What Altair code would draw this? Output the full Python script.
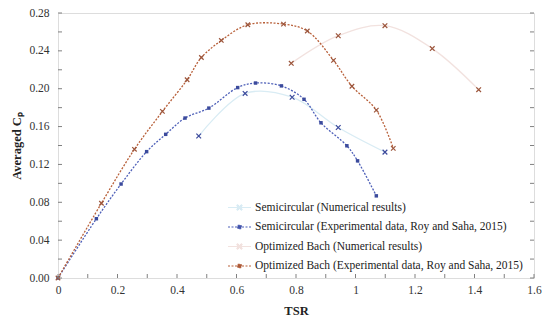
import altair as alt
import pandas as pd

# ---- data ----
semi_num_tsr = [0.473, 0.629, 0.787, 0.942, 1.099]
semi_num_cp = [0.150, 0.195, 0.191, 0.159, 0.133]

semi_exp_tsr = [0, 0.129, 0.212, 0.298, 0.362, 0.427, 0.507, 0.604, 0.664, 0.751, 0.827, 0.884, 0.971, 1.007, 1.070]
semi_exp_cp = [0, 0.0626, 0.0993, 0.1335, 0.1518, 0.169, 0.1795, 0.2012, 0.206, 0.203, 0.1888, 0.164, 0.1397, 0.1238, 0.0868]

bach_num_tsr = [0.784, 0.942, 1.099, 1.258, 1.414]
bach_num_cp = [0.2268, 0.256, 0.2666, 0.2424, 0.199]

bach_exp_tsr = [0, 0.146, 0.257, 0.351, 0.434, 0.482, 0.549, 0.638, 0.758, 0.838, 0.926, 0.988, 1.070, 1.127]
bach_exp_cp = [0, 0.079, 0.136, 0.176, 0.2095, 0.233, 0.251, 0.2676, 0.2683, 0.261, 0.230, 0.2026, 0.1774, 0.137]

labels = [
    "Semicircular (Numerical results)",
    "Semicircular (Experimental data, Roy and Saha, 2015)",
    "Optimized Bach (Numerical results)",
    "Optimized Bach (Experimental data, Roy and Saha, 2015)",
]

x_label_values = [0, 0.2, 0.4, 0.6, 0.8, 1.0, 1.2, 1.4, 1.6]
y_label_values = [0, 0.04, 0.08, 0.12, 0.16, 0.20, 0.24, 0.28]
x_tick_values = [0, 0.1, 0.2, 0.3, 0.4, 0.5, 0.6, 0.7, 0.8, 0.9, 1.0, 1.1, 1.2, 1.3, 1.4, 1.5, 1.6]
y_tick_values = [0, 0.02, 0.04, 0.06, 0.08, 0.10, 0.12, 0.14, 0.16, 0.18, 0.20, 0.22, 0.24, 0.26, 0.28]

# ---- styles ----
SEMI_DARK = "#3b4a9c"
SEMI_LINE = "#4d5fb8"
SEMI_FAINT = "#d9ecf4"
BACH_DARK = "#9c553b"
BACH_LINE = "#b8603a"
BACH_FAINT = "#f2e2df"
FRAME = "#808080"
FONT = "Liberation Serif"

W, H = 476, 265


def frame(tsr, cp, series, dark, line, faint):
    return pd.DataFrame({"tsr": tsr, "cp": cp, "series": series,
                         "dark": dark, "line": line, "faint": faint})


df_semi_num = frame(semi_num_tsr, semi_num_cp, labels[0], SEMI_DARK, SEMI_LINE, SEMI_FAINT)
df_semi_exp = frame(semi_exp_tsr, semi_exp_cp, labels[1], SEMI_DARK, SEMI_LINE, SEMI_FAINT)
df_bach_num = frame(bach_num_tsr, bach_num_cp, labels[2], BACH_DARK, BACH_LINE, BACH_FAINT)
df_bach_exp = frame(bach_exp_tsr, bach_exp_cp, labels[3], BACH_DARK, BACH_LINE, BACH_FAINT)
df_num = pd.concat([df_semi_num, df_bach_num])
df_exp = pd.concat([df_semi_exp, df_bach_exp])

axis_style = dict(tickSize=0, domain=False, grid=False, labelOverlap=False,
                  labelFlush=False,
                  labelFont=FONT, labelFontSize=11.5, labelColor="#333333",
                  titleFont=FONT, titleFontSize=12.5, titleFontWeight="bold",
                  titleColor="#222222")

xs = alt.Scale(domain=[0, 1.6], nice=False, zero=False)
ys = alt.Scale(domain=[0, 0.28], nice=False)
X_AX = alt.Axis(values=x_label_values, format="~g", title="TSR",
                labelPadding=6, titlePadding=9, **axis_style)
Y_AX = alt.Axis(values=y_label_values, format=".2f", title="Averaged Cₚ",
                labelPadding=9, titlePadding=5, **axis_style)


def xq(field):
    return alt.X(field, type="quantitative", scale=xs, axis=X_AX)


def yq(field):
    return alt.Y(field, type="quantitative", scale=ys, axis=Y_AX)


X_PATH = "M-1,-1L1,1M-1,1L1,-1"

faint_lines = alt.Chart(df_num).mark_line(interpolate="catmull-rom", strokeWidth=1.3).encode(
    x=xq("tsr"), y=yq("cp"), color=alt.Color("faint:N", scale=None), detail="series:N")

exp_lines = alt.Chart(df_exp).mark_line(interpolate="catmull-rom", strokeWidth=1.3,
                                        strokeDash=[2, 1.5]).encode(
    x=xq("tsr"), y=yq("cp"), color=alt.Color("line:N", scale=None), detail="series:N")

num_points = alt.Chart(df_num).mark_point(shape=X_PATH, size=22, strokeWidth=1.2,
                                          filled=False, opacity=1).encode(
    x=xq("tsr"), y=yq("cp"), color=alt.Color("dark:N", scale=None))

semi_exp_points = alt.Chart(df_semi_exp).mark_square(size=12, opacity=1).encode(
    x=xq("tsr"), y=yq("cp"), color=alt.Color("dark:N", scale=None))

bach_exp_points = alt.Chart(df_bach_exp).mark_point(shape=X_PATH, size=20, strokeWidth=1.2,
                                                    filled=False, opacity=1).encode(
    x=xq("tsr"), y=yq("cp"), color=alt.Color("dark:N", scale=None))

# ---- ticks drawn inward ----
xt = pd.DataFrame({"tsr": x_tick_values})
yt = pd.DataFrame({"cp": y_tick_values})
x_ticks = alt.Chart(xt).mark_rule(color=FRAME, strokeWidth=1).encode(
    x=xq("tsr"), y=alt.value(H), y2=alt.value(H - 4))
y_ticks_l = alt.Chart(yt).mark_rule(color=FRAME, strokeWidth=1).encode(
    y=yq("cp"), x=alt.value(0), x2=alt.value(4))
y_ticks_r = alt.Chart(yt).mark_rule(color=FRAME, strokeWidth=1).encode(
    y=yq("cp"), x=alt.value(W - 4), x2=alt.value(W))

# ---- legend carrier (no marks drawn) ----
P_NUM = ("M-2,0L2,0M-0.45,-0.33L-0.33,-0.45L0,-0.12L0.33,-0.45L0.45,-0.33L0.12,0"
         "L0.45,0.33L0.33,0.45L0,0.12L-0.33,0.45L-0.45,0.33L-0.12,0Z")
P_EXP = "M-2,0L2,0M-0.3,-0.3L0.3,-0.3L0.3,0.3L-0.3,0.3Z"

legend = alt.Legend(orient="none", legendX=175, legendY=188, title=None,
                    labelFont=FONT, labelFontSize=11.5, labelColor="#222222",
                    labelLimit=0, labelOffset=9, rowPadding=7.5, symbolSize=132,
                    symbolStrokeWidth=1.2, padding=0)

leg_df = pd.DataFrame({"series": labels, "tsr": [0.5] * 4, "cp": [0.1] * 4})
legend_layer = alt.Chart(leg_df).transform_filter("false").mark_point(
    filled=True, opacity=1, size=132).encode(
    x=xq("tsr"),
    y=yq("cp"),
    shape=alt.Shape("series:N", scale=alt.Scale(domain=labels, range=[P_NUM, P_EXP, P_NUM, P_EXP]),
                    legend=legend),
    fill=alt.Fill("series:N", scale=alt.Scale(domain=labels,
                                              range=[SEMI_DARK, SEMI_DARK, BACH_DARK, BACH_DARK]),
                  legend=legend),
    stroke=alt.Stroke("series:N", scale=alt.Scale(domain=labels,
                                                  range=[SEMI_FAINT, SEMI_LINE, BACH_FAINT, BACH_LINE]),
                      legend=legend),
    strokeDash=alt.StrokeDash("series:N", scale=alt.Scale(domain=labels,
                                                          range=[[1, 0], [2, 1.5], [1, 0], [2, 1.5]]),
                              legend=legend),
)

chart = alt.layer(
    faint_lines, exp_lines, num_points, semi_exp_points, bach_exp_points,
    x_ticks, y_ticks_l, y_ticks_r, legend_layer
).properties(
    width=W, height=H,
    autosize=alt.AutoSizeParams(type="none"),
    padding={"left": 50, "top": 5, "right": 8, "bottom": 45},
).configure_view(
    stroke=FRAME, strokeWidth=1.5
).configure(background="white", font=FONT)

chart.save("out.html", embed_options={"renderer": "svg", "actions": False})
